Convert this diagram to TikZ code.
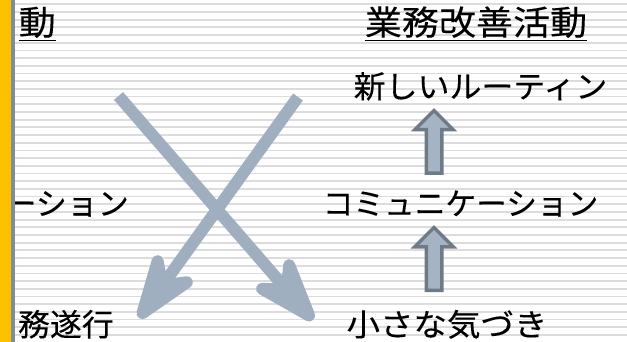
\documentclass[tikz,border=0pt]{standalone}
\usepackage{fontspec}
\usepackage{graphicx}
\newfontfamily\jp[FakeBold=0.12]{Noto Sans CJK JP}
\usetikzlibrary{calc}
\definecolor{bary}{HTML}{FFC000}
\definecolor{barg}{HTML}{7F8C9B}
\definecolor{rulec}{HTML}{DCDCDC}
\definecolor{xarrow}{HTML}{9FAFBF}
\definecolor{blockfill}{HTML}{A5B4C4}
\definecolor{blockline}{HTML}{6E7B87}
\newcommand{\jpw}[2]{\scalebox{#1}[1]{#2}}
\begin{document}
\begin{tikzpicture}[x=1pt,y=-1pt,
  txt/.style={inner sep=0pt, font=\jp\fontsize{31}{31}\selectfont},
  ttl/.style={inner sep=0pt, font=\jp\fontsize{34}{34}\selectfont},
  uline/.style={line width=1.6pt, black},
  cross/.style={xarrow, line width=12pt, line cap=butt, shorten >=30pt},
  xhead/.pic={\filldraw[xarrow, line width=12pt, line join=round]
     (-6,0) -- (-57,18) -- (-40,0) -- (-57,-18) -- cycle;},
  block/.style={fill=blockfill, draw=blockline, line width=3.5pt, line join=miter},
  uparrow/.pic={\draw[block] (-7.75,-1.75) -- (-7.75,-45.25) -- (-19.25,-45.25)
     -- (0,-64.5) -- (19.25,-45.25) -- (7.75,-45.25) -- (7.75,-1.75) -- cycle;}
]
\useasboundingbox (0,0) rectangle (627,342);
\fill[white] (0,0) rectangle (627,342);
% ruled background
\foreach \k in {0,...,43}{
  \pgfmathsetmacro{\yy}{4.3+7.69*\k}
  \draw[rulec, line width=1.8pt] (15,\yy) -- (627,\yy);
}
% left column (cut off)
\node[ttl, anchor=base east] (lt) at (56,35) {\jpw{1.09}{動}};
\draw[uline] ([yshift=-5.5pt]lt.base west) -- ([yshift=-5.5pt]lt.base east);
\node[txt, anchor=base east] (lc) at (129,215) {\jpw{1.0}{ーション}};
\node[txt, anchor=base east] (lb) at (114,336) {\jpw{1.03}{務遂行}};
% right column
\node[ttl, anchor=base] (rt) at (476,35) {\jpw{1.09}{業務改善活動}};
\draw[uline] ([yshift=-5.5pt]rt.base west) -- ([yshift=-5.5pt]rt.base east);
\node[txt, anchor=base] (rn) at (480.5,98) {\jpw{1.03}{新しいルーティン}};
\node[txt, anchor=base] (rc) at (460.5,215) {\jpw{0.99}{コミュニケーション}};
\node[txt, anchor=base] (rs) at (447,336) {\jpw{1.08}{小さな気づき}};
% block arrows
\coordinate (a1) at (434,175);
\coordinate (a2) at (434,292);
\pic at (a1) {uparrow};
\pic at (a2) {uparrow};
% crossing arrows
\coordinate (c1s) at (118.5,96);
\coordinate (c1e) at (313,320);
\coordinate (c2s) at (298,97);
\coordinate (c2e) at (139,318);
\draw[cross] (c1s) -- (c1e);
\draw[cross] (c2s) -- (c2e);
\pic[rotate=-49.0] at (c1e) {xhead};
\pic[rotate=-125.7] at (c2e) {xhead};
% left bar
\fill[bary] (0,0) rectangle (11,342);
\fill[barg] (11,0) rectangle (15,342);
\end{tikzpicture}
\end{document}
